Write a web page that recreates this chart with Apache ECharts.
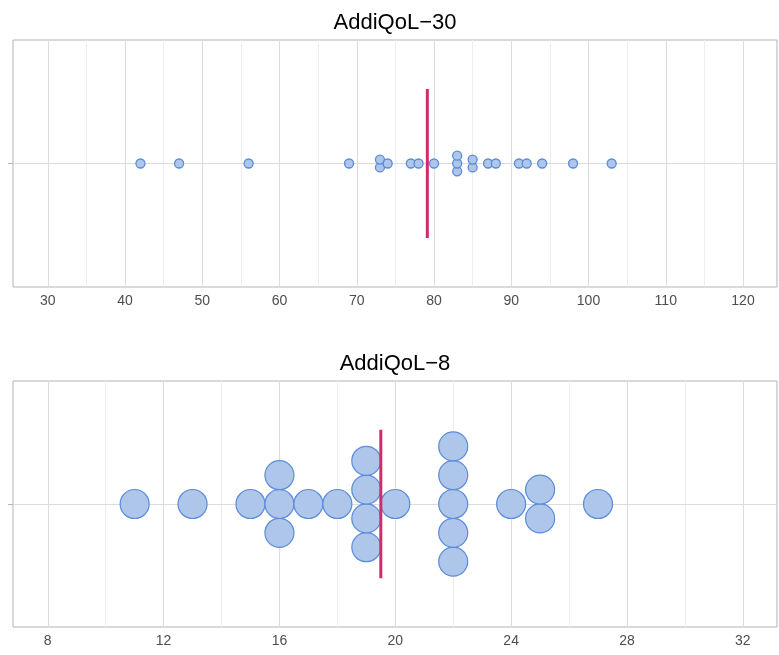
<!DOCTYPE html>
<html>
<head>
<meta charset="utf-8">
<script src="https://cdn.jsdelivr.net/npm/echarts@6/dist/echarts.min.js"></script>
<style>
  html, body { margin: 0; padding: 0; background: #ffffff; }
  #chart { width: 779px; height: 655px; }
</style>
</head>
<body>
<div id="chart"></div>
<script>
// Scores for each questionnaire
const titles = ['AddiQoL\u221230', 'AddiQoL\u22128'];
const scores30 = [42, 47, 56, 69, 73, 73, 74, 77, 78, 80, 83, 83, 83, 85, 85, 87, 88, 91, 92, 94, 98, 103];
const scores8 = [11, 13, 15, 16, 16, 16, 17, 18, 19, 19, 19, 19, 20, 22, 22, 22, 22, 22, 24, 25, 25, 27];

// Axis ticks
const majorTicks30 = [30, 40, 50, 60, 70, 80, 90, 100, 110, 120];
const minorTicks30 = [35, 45, 55, 65, 75, 85, 95, 105, 115];
const majorTicks8 = [8, 12, 16, 20, 24, 28, 32];
const minorTicks8 = [10, 14, 18, 22, 26, 30];

const FONT = 'Liberation Sans, Arial, Helvetica, sans-serif';
const panels = [
  { top: 40, height: 247, xMin: 25.5, xMax: 124.4, dot: 9, border: 1.3, gap: 7.8,
    data: scores30, major: majorTicks30, minor: minorTicks30 },
  { top: 381, height: 246, xMin: 6.8, xMax: 33.18, dot: 29, border: 1.2, gap: 28.8,
    data: scores8, major: majorTicks8, minor: minorTicks8 }
];

// Stack equal values vertically, centred on the axis line
function swarm(values, gapPx, halfHeightPx) {
  const counts = {};
  values.forEach(v => { counts[v] = (counts[v] || 0) + 1; });
  const seen = {};
  const step = gapPx / halfHeightPx;
  return values.map(v => {
    const k = seen[v] = (seen[v] || 0) + 1;
    const n = counts[v];
    return [v, (k - 1 - (n - 1) / 2) * step];
  });
}

const mean = arr => arr.reduce((a, b) => a + b, 0) / arr.length;

const option = {
  animation: false,
  backgroundColor: '#ffffff',
  title: [], grid: [], xAxis: [], yAxis: [], series: []
};

panels.forEach((p, i) => {
  option.title.push({
    text: titles[i],
    left: 390, top: p.top - 33,
    textAlign: 'center',
    textStyle: { fontFamily: FONT, fontSize: 22, fontWeight: 'normal', color: '#000000' }
  });
  option.grid.push({
    left: 13, right: 2, top: p.top, height: p.height,
    show: true, borderColor: '#b3b3b3', borderWidth: 1, backgroundColor: 'transparent'
  });
  option.xAxis.push({
    type: 'value', gridIndex: i, min: p.xMin, max: p.xMax,
    axisLine: { show: false },
    splitLine: { show: false },
    axisTick: { show: true, customValues: p.major, length: 4,
      lineStyle: { color: '#cfcfcf', width: 1 } },
    axisLabel: { customValues: p.major, margin: 7, color: '#4d4d4d',
      fontFamily: FONT, fontSize: 14 }
  });
  option.yAxis.push({
    type: 'value', gridIndex: i, min: -1, max: 1,
    axisLine: { show: false },
    axisLabel: { show: false },
    axisTick: { show: true, customValues: [0], length: 5,
      lineStyle: { color: '#b3b3b3', width: 1 } },
    splitLine: { show: false }
  });

  const grid = [
    ...p.minor.map(v => ({ xAxis: v, lineStyle: { color: '#ededed', width: 1, type: 'solid' } })),
    ...p.major.map(v => ({ xAxis: v, lineStyle: { color: '#dcdcdc', width: 1, type: 'solid' } })),
  ];

  // gridlines
  option.series.push({
    type: 'line', xAxisIndex: i, yAxisIndex: i, data: [], silent: true, z: 1,
    markLine: {
      z: 1, silent: true, symbol: ['none', 'none'], label: { show: false }, animation: false,
      data: grid.concat([[{ coord: [p.xMin, 0], lineStyle: { color: '#dcdcdc', width: 1, type: 'solid' } },
                          { coord: [p.xMax, 0] }]])
    }
  });

  // dots
  option.series.push({
    type: 'scatter', xAxisIndex: i, yAxisIndex: i, z: 10,
    symbol: 'circle', symbolSize: p.dot,
    itemStyle: { color: '#aec6e9', borderColor: '#5b8bd9', borderWidth: p.border, opacity: 1 },
    data: swarm(p.data, p.gap, p.height / 2)
  });

  // mean marker
  const m = mean(p.data);
  option.series.push({
    type: 'line', xAxisIndex: i, yAxisIndex: i, z: 11,
    symbol: 'none', silent: true,
    lineStyle: { color: '#cf2c6b', width: 3 },
    data: [[m, -0.603], [m, 0.603]]
  });
});

const chart = echarts.init(document.getElementById('chart'), null, { renderer: 'canvas' });
chart.setOption(option);
</script>
</body>
</html>
